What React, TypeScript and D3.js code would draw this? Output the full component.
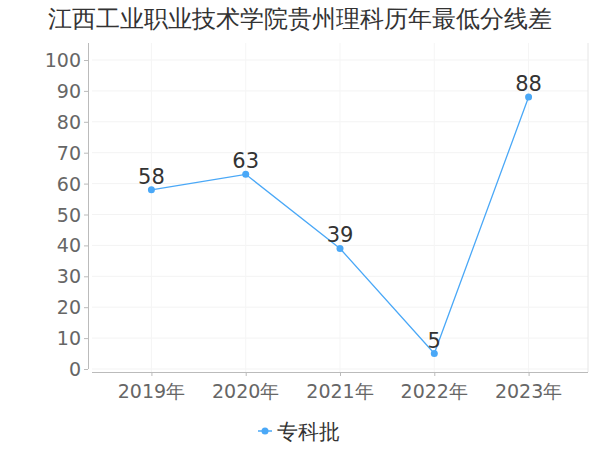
import { useEffect, useRef } from "react";
import * as d3 from "d3";

const years = ["2019年", "2020年", "2021年", "2022年", "2023年"];
const values = [58, 63, 39, 5, 88];
const yTicks = [0, 10, 20, 30, 40, 50, 60, 70, 80, 90, 100];
const title = "江西工业职业技术学院贵州理科历年最低分线差";
const seriesName = "专科批";

export default function App() {
  const ref = useRef<SVGSVGElement>(null);
  const width = 600;
  const height = 450;
  const font = "DejaVu Sans, sans-serif";
  const color = "#4aa8f7";

  useEffect(() => {
    const svg = d3.select(ref.current);
    svg.selectAll("*").remove();

    const left = 92, right = 588, top = 43, bottom = 372;
    const x = d3.scalePoint<string>().domain(years).range([left, right]).padding(0.63);
    const y = d3.scaleLinear().domain([0, 100]).range([369, 60]);

    svg.append("text")
      .attr("x", width / 2).attr("y", 27)
      .attr("text-anchor", "middle")
      .attr("font-family", font).attr("font-size", 24)
      .attr("fill", "#333")
      .text(title);

    // grid
    const grid = svg.append("g");
    grid.selectAll("line.h").data(yTicks).enter().append("line")
      .attr("x1", left).attr("x2", right)
      .attr("y1", (d) => y(d)).attr("y2", (d) => y(d))
      .attr("stroke", "#f3f3f3");
    grid.selectAll("line.v").data(years).enter().append("line")
      .attr("x1", (d) => x(d)!).attr("x2", (d) => x(d)!)
      .attr("y1", top).attr("y2", bottom)
      .attr("stroke", "#f5f5f5");
    grid.append("line").attr("x1", right).attr("x2", right)
      .attr("y1", top).attr("y2", bottom).attr("stroke", "#e6e6e6");

    // y axis
    svg.append("line").attr("x1", 88.5).attr("x2", 88.5)
      .attr("y1", top).attr("y2", y(0)).attr("stroke", "#bbb");
    const yt = svg.append("g");
    yt.selectAll("line").data(yTicks).enter().append("line")
      .attr("x1", 84).attr("x2", 88)
      .attr("y1", (d) => y(d) + 0.5).attr("y2", (d) => y(d) + 0.5)
      .attr("stroke", "#bbb");
    yt.selectAll("text").data(yTicks).enter().append("text")
      .attr("x", 81).attr("y", (d) => y(d) + 7)
      .attr("text-anchor", "end")
      .attr("font-family", font).attr("font-size", 19)
      .attr("fill", "#666")
      .text((d) => d);

    // x axis
    svg.append("line").attr("x1", left).attr("x2", right)
      .attr("y1", bottom + 0.5).attr("y2", bottom + 0.5).attr("stroke", "#bbb");
    const xt = svg.append("g");
    xt.selectAll("line").data(years).enter().append("line")
      .attr("x1", (d) => x(d)! + 0.5).attr("x2", (d) => x(d)! + 0.5)
      .attr("y1", bottom).attr("y2", bottom + 4)
      .attr("stroke", "#bbb");
    xt.selectAll("text").data(years).enter().append("text")
      .attr("x", (d) => x(d)!).attr("y", 398)
      .attr("text-anchor", "middle")
      .attr("font-family", font).attr("font-size", 19)
      .attr("fill", "#666")
      .text((d) => d);

    // line
    const pts = years.map((yr, i) => [x(yr)!, y(values[i])] as [number, number]);
    svg.append("path")
      .attr("d", d3.line()(pts)!)
      .attr("fill", "none").attr("stroke", color).attr("stroke-width", 1.3);
    svg.selectAll("circle.pt").data(pts).enter().append("circle")
      .attr("cx", (d) => d[0]).attr("cy", (d) => d[1]).attr("r", 3.5)
      .attr("fill", color);
    svg.selectAll("text.lbl").data(values).enter().append("text")
      .attr("x", (_, i) => pts[i][0]).attr("y", (_, i) => pts[i][1] - 6)
      .attr("text-anchor", "middle")
      .attr("font-family", font).attr("font-size", 21)
      .attr("fill", "#333")
      .text((d) => d);

    // legend
    const lg = svg.append("g");
    lg.append("line").attr("x1", 258).attr("x2", 272)
      .attr("y1", 431).attr("y2", 431).attr("stroke", color).attr("stroke-width", 1.5);
    lg.append("circle").attr("cx", 265).attr("cy", 431).attr("r", 3.5).attr("fill", color);
    lg.append("text").attr("x", 277).attr("y", 439)
      .attr("font-family", font).attr("font-size", 21)
      .attr("fill", "#333").text(seriesName);
  }, []);

  return (
    <svg ref={ref} width={width} height={height}
      style={{ position: "absolute", left: 0, top: 0, background: "#fff" }} />
  );
}
